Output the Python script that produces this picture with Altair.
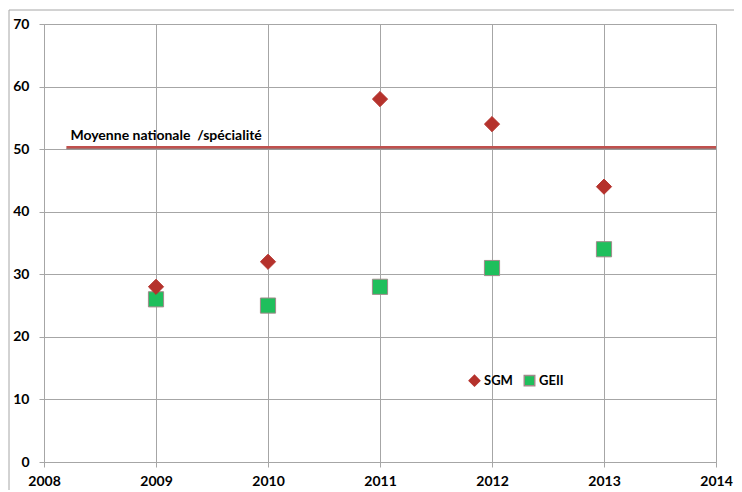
import altair as alt
import pandas as pd

years = [2009, 2010, 2011, 2012, 2013]
sgm = [28, 32, 58, 54, 44]
geii = [26, 25, 28, 31, 34]
series_names = ["SGM", "GEII"]
national_avg = 50.3
avg_label = "Moyenne nationale\u00a0 /spécialité"
avg_start, avg_end = 2008.2, 2014

rows = [{"year": y, "value": v, "serie": "SGM"} for y, v in zip(years, sgm)]
rows += [{"year": y, "value": v, "serie": "GEII"} for y, v in zip(years, geii)]
df = pd.DataFrame(rows)

W, H = 672, 438
FONT = "Lato"

xscale = alt.Scale(domain=[2008, 2014], nice=False)
yscale = alt.Scale(domain=[0, 70], nice=False)

points = alt.Chart(df).mark_point(filled=True, size=230, strokeWidth=1, opacity=1).encode(
    x=alt.X("year:Q", scale=xscale,
            axis=alt.Axis(values=[2008, 2009, 2010, 2011, 2012, 2013, 2014], format="d", title=None,
                          grid=True, gridColor="#a6a6a6", domainColor="#a6a6a6", tickColor="#a6a6a6",
                          tickSize=5, labelFont=FONT, labelFontWeight="bold", labelFontSize=14,
                          labelColor="#000", labelPadding=7, labelFlush=False)),
    y=alt.Y("value:Q", scale=yscale,
            axis=alt.Axis(values=[0, 10, 20, 30, 40, 50, 60, 70], title=None,
                          grid=True, gridColor="#a6a6a6", domainColor="#a6a6a6", tickColor="#a6a6a6",
                          tickSize=5, labelFont=FONT, labelFontWeight="bold", labelFontSize=14,
                          labelColor="#000", labelPadding=10, labelFlush=False)),
    color=alt.Color("serie:N", scale=alt.Scale(domain=series_names, range=["#b5322c", "#1fbf5c"]),
                    legend=alt.Legend(title=None, orient="none", legendX=424, legendY=350,
                                      direction="horizontal", labelFont=FONT, labelFontWeight="bold",
                                      labelFontSize=13, labelColor="#000", symbolSize=110,
                                      columnPadding=8, labelOffset=3)),
    shape=alt.Shape("serie:N", scale=alt.Scale(domain=series_names, range=["diamond", "square"])),
    stroke=alt.Stroke("serie:N", scale=alt.Scale(domain=series_names, range=["#b5322c", "#a08a8a"])),
    order=alt.Order("serie:N", sort="ascending"),
)

avg_df = pd.DataFrame([{"x": avg_start, "x2": avg_end, "y": national_avg, "label": avg_label}])

avg_shadow = alt.Chart(avg_df).mark_rule(color="#8c8c8c", strokeWidth=1.5, yOffset=1.5).encode(
    x=alt.X("x:Q", scale=xscale), x2="x2:Q", y=alt.Y("y:Q", scale=yscale))
avg_line = alt.Chart(avg_df).mark_rule(color="#c0504d", strokeWidth=2.5).encode(
    x=alt.X("x:Q", scale=xscale), x2="x2:Q", y=alt.Y("y:Q", scale=yscale))
avg_text = alt.Chart(avg_df).mark_text(align="left", baseline="bottom", dx=4, dy=-4,
                                       font=FONT, fontWeight="bold", fontSize=14, color="#000").encode(
    x=alt.X("x:Q", scale=xscale), y=alt.Y("y:Q", scale=yscale), text="label:N")

frame_top = alt.Chart(avg_df).mark_rule(color="#a6a6a6", strokeWidth=1).encode(
    x=alt.value(-35), x2=alt.value(W + 40), y=alt.value(-14))
frame_left = alt.Chart(avg_df).mark_rule(color="#a6a6a6", strokeWidth=1).encode(
    x=alt.value(-35), y=alt.value(-14), y2=alt.value(H + 40))

chart = alt.layer(frame_top, frame_left, avg_shadow, avg_line, avg_text, points).properties(
    width=W, height=H,
    padding={"left": 36, "top": 16, "right": 18, "bottom": 28},
    autosize=alt.AutoSizeParams(type="none"),
).configure_view(stroke=None).configure(background="white")

chart.save("out.html", embed_options={"renderer": "svg", "actions": False})
